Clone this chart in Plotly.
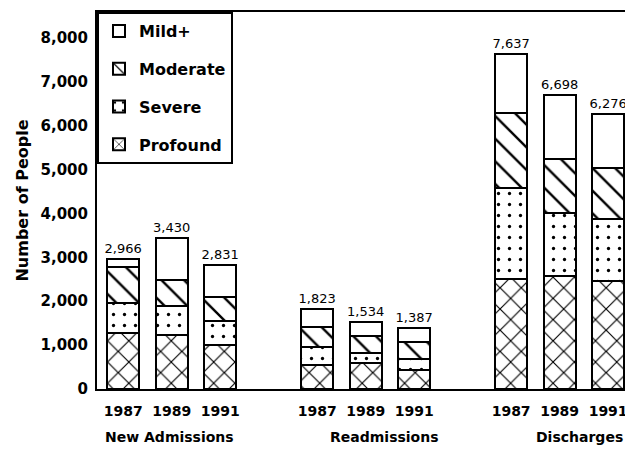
import plotly.graph_objects as go

# bar slots: three groups of three years, one empty slot between groups
positions = [0, 1, 2, 4, 5, 6, 8, 9, 10]
years = ["1987", "1989", "1991"] * 3
groups = ["New Admissions", "Readmissions", "Discharges"]
group_label_x = [0.95, 5.38, 9.42]

profound = [1285, 1225, 1000, 550, 600, 435, 2510, 2575, 2460]
severe = [665, 670, 555, 410, 225, 260, 2075, 1440, 1420]
moderate = [840, 585, 545, 450, 380, 370, 1700, 1220, 1160]
mild = [176, 950, 731, 413, 329, 322, 1352, 1463, 1236]

totals = [p + s + m + mi for p, s, m, mi in zip(profound, severe, moderate, mild)]

FONT = "DejaVu Sans"

# name, values, pattern shape, cell size, solidity, legend rank
series = [
    ("Profound", profound, "x", 15, 0.15, 4),
    ("Severe", severe, ".", 11, 0.07, 3),
    ("Moderate", moderate, "\\", 16, 0.15, 2),
    ("Mild+", mild, "", 10, 0.1, 1),
]

fig = go.Figure()
for name, vals, shape, size, solid, rank in series:
    top = name == "Mild+"
    fig.add_bar(
        x=positions,
        y=vals,
        name=name,
        legendgroup=name,
        legendrank=rank,
        width=0.66,
        marker=dict(
            color="white",
            line=dict(color="black", width=2),
            pattern=dict(
                shape=shape,
                fgcolor="black",
                fgopacity=1,
                bgcolor="white",
                size=size,
                solidity=solid,
                fillmode="overlay",
            ),
        ),
        text=[f"{t:,}" for t in totals] if top else None,
        textposition="outside" if top else "none",
        textfont=dict(family=FONT, size=13, color="black"),
        constraintext="none",
        cliponaxis=False,
    )

for label, gx in zip(groups, group_label_x):
    fig.add_annotation(
        x=gx,
        xref="x",
        y=-0.127,
        yref="paper",
        text=label,
        showarrow=False,
        xanchor="center",
        yanchor="middle",
        font=dict(family=FONT, size=14, weight="bold", color="black"),
    )

# the page body keeps an 8px margin, so the figure is 8px smaller each way
fig.update_layout(
    barmode="stack",
    width=625,
    height=444,
    margin=dict(l=89, r=5, t=2, b=63),
    paper_bgcolor="white",
    plot_bgcolor="white",
    font=dict(family=FONT, color="black"),
    legend=dict(
        x=0,
        y=1,
        xanchor="left",
        yanchor="top",
        traceorder="grouped",
        tracegroupgap=14,
        bgcolor="white",
        bordercolor="black",
        borderwidth=2,
        font=dict(family=FONT, size=16, weight="bold"),
    ),
    xaxis=dict(
        range=[-0.54, 10.41],
        tickvals=positions,
        ticktext=years,
        tickfont=dict(family=FONT, size=14, weight="bold"),
        ticks="",
        ticklabelstandoff=8,
        showline=True,
        linecolor="black",
        linewidth=2,
        mirror=True,
        showgrid=False,
        zeroline=False,
    ),
    yaxis=dict(
        range=[0, 8590],
        tickvals=[0, 1000, 2000, 3000, 4000, 5000, 6000, 7000, 8000],
        tickformat=",",
        tickfont=dict(family=FONT, size=15, weight="bold"),
        ticks="",
        ticklabelstandoff=4,
        showline=True,
        linecolor="black",
        linewidth=2,
        mirror=True,
        showgrid=False,
        zeroline=False,
        title=dict(
            text="Number of People",
            font=dict(family=FONT, size=16, weight="bold"),
            standoff=8,
        ),
    ),
)

fig.write_html("out.html")
